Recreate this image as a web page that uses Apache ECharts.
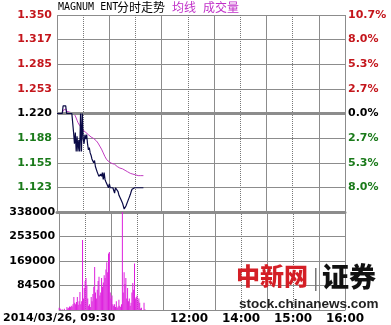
<!DOCTYPE html>
<html><head><meta charset="utf-8">
<script src="https://cdn.jsdelivr.net/npm/echarts@6/dist/echarts.min.js"></script>
<style>html,body{margin:0;padding:0;background:#fff}#c{width:391px;height:325px}</style>
</head><body><div id="c"></div>
<script>
// ---- data (one value per trading minute from 09:30) ----
const prevClose = 1.220;
const priceValues = [
1.220,1.220,1.220,1.220,1.220,1.220,1.220,
1.230,1.230,1.230,1.230,
1.220,1.220,1.220,1.220,1.220,1.220,1.220,1.220,
1.195,1.180,1.195,1.170,1.190,1.170,1.185,1.170,1.220,1.170,1.220,1.186,1.180,1.192,1.186,1.192,1.180,1.172,1.175,1.168,1.165,1.160,1.162,1.155,1.158,1.150,1.148,1.143,1.140,1.137,1.137,1.140,1.137,1.142,1.133,1.142,1.133,1.130,1.128,1.128,1.122,1.127,1.122,
1.122,1.122,1.122,1.122,1.115,1.122,1.122,1.122,1.117,1.112,1.110,1.107,1.105,1.102,1.100,1.094,1.092,1.098,1.100,1.104,1.107,1.110,1.113,1.117,1.120,
1.122,1.122,1.122,1.122,1.122,1.122,1.122,1.122,1.122,1.122,1.122,1.122,1.122
];
const avgValues = [
1.220,1.220,1.220,1.220,1.220,1.220,1.220,
1.224,1.226,1.226,1.226,
1.223,1.222,1.222,1.222,1.221,1.221,1.221,1.221,
1.220,1.219,1.217,1.214,1.211,1.208,1.206,1.204,1.203,1.201,1.200,1.198,1.197,1.196,1.195,1.194,1.193,1.192,1.191,1.190,1.189,1.188,1.187,1.187,1.186,1.185,1.184,1.183,1.181,1.179,1.177,1.175,1.173,1.171,1.168,1.166,1.163,1.161,1.159,1.158,1.157,1.156,1.155,
1.154,1.154,1.153,1.153,1.153,1.152,1.151,1.150,1.149,1.149,1.148,1.148,1.147,1.147,1.146,1.145,1.145,1.144,1.143,1.143,1.142,1.142,1.141,1.141,1.140,
1.140,1.139,1.139,1.139,1.138,1.138,1.138,1.138,1.138,1.138,1.138,1.138,1.138
];
const volumeValues = [
8000,5000,3000,0,2000,0,4000,0,0,10000,
5000,8000,12000,10000,15000,12000,20000,45000,25000,20000,
28000,45000,18000,30000,62000,20000,30000,241000,40000,76000,
100000,110000,85000,40000,15000,20000,10000,45000,30000,55000,
80000,148000,60000,40000,70000,100000,115000,50000,60000,110000,
80000,95000,120000,110000,140000,165000,130000,195000,200000,60000,
40000,50000,20000,15000,20000,10000,30000,8000,12000,35000,
15000,10000,20000,338000,60000,130000,90000,110000,40000,76000,
30000,40000,15000,25000,60000,93000,70000,160000,40000,45000,
50000,30000,40000,25000,5000,8000,0,0,25000,3000
];
const priceTickLabels = ['1.350','1.317','1.285','1.253','1.220','1.188','1.155','1.123'];
const pctTickLabels = ['10.7%','8.0%','5.3%','2.7%','0.0%','2.7%','5.3%','8.0%'];
const volumeTickLabels = ['338000','253500','169000','84500'];
const timeTickMinutes = [0,150,210,270,330];
const timeTickLabels = ['2014/03/26, 09:30','12:00','14:00','15:00','16:00'];

// ---- chart ----
const RED='#c4161c', GREEN='#1a7a1a', BLACK='#000', GRID='#8c8c8c';
const FONT='DejaVu Sans';
const pricePairs = priceValues.map((v,i)=>[i,v]);
const avgPairs = avgValues.map((v,i)=>[i,v]);
const volPairs = volumeValues.map((v,i)=>[i,v]);
function labColor(idx){ // idx from bottom, 0..8
  const k = 8-idx; if(k<4) return RED; if(k===4) return BLACK; return GREEN;
}
const xBase = {type:'value',min:0,max:330,axisTick:{show:false}};
const chart = echarts.init(document.getElementById('c'),null,{renderer:'canvas'});
chart.setOption({
  animation:false,
  backgroundColor:'#fff',
  grid:[
    {left:57,top:15,width:288,height:197,show:false},
    {left:57,top:212,width:288,height:98,show:false}
  ],
  xAxis:[
    Object.assign({},xBase,{gridIndex:0,interval:30,axisLabel:{show:false},
      axisLine:{show:true,lineStyle:{color:GRID,width:3}},
      splitLine:{show:true,lineStyle:{color:'#777',width:1,type:[1,1]}}}),
    Object.assign({},xBase,{gridIndex:0,interval:60,axisLabel:{show:false},axisLine:{show:false},
      splitLine:{show:true,lineStyle:{color:GRID,width:1}}}),
    Object.assign({},xBase,{gridIndex:1,interval:30,
      axisLine:{show:true,lineStyle:{color:GRID,width:1}},
      splitLine:{show:true,lineStyle:{color:'#777',width:1,type:[1,1]}},
      axisLabel:{show:true,showMinLabel:true,showMaxLabel:true,margin:3,color:'#000',fontFamily:FONT,fontWeight:'bold',fontSize:12,
        formatter:function(v){const i=timeTickMinutes.indexOf(Math.round(v));return i<0?'':(i===0?'{d|'+timeTickLabels[0]+'}':timeTickLabels[i]);},
        rich:{d:{fontFamily:FONT,fontWeight:'bold',fontSize:11,color:'#000'}}}}),
    Object.assign({},xBase,{gridIndex:1,interval:60,axisLabel:{show:false},axisLine:{show:false},
      splitLine:{show:true,lineStyle:{color:GRID,width:1}}})
  ],
  yAxis:[
    {type:'value',gridIndex:0,min:1.09,max:1.35,interval:0.0325,position:'left',
      axisLine:{show:false},axisTick:{show:false},
      splitLine:{show:true,lineStyle:{color:GRID,width:1}},
      axisLabel:{margin:5,fontFamily:FONT,fontWeight:'bold',fontSize:11,
        formatter:function(v,idx){return idx===0?'':priceTickLabels[8-idx];},
        color:function(v,idx){return labColor(idx);}}},
    {type:'value',gridIndex:0,min:1.09,max:1.35,interval:0.0325,position:'right',
      axisLine:{show:false},axisTick:{show:false},splitLine:{show:false},
      axisLabel:{margin:3,fontFamily:FONT,fontWeight:'bold',fontSize:11,
        formatter:function(v,idx){return idx===0?'':pctTickLabels[8-idx];},
        color:function(v,idx){return labColor(idx);}}},
    {type:'value',gridIndex:1,min:0,max:338000,interval:84500,position:'left',
      axisLine:{show:false},axisTick:{show:false},
      splitLine:{show:true,lineStyle:{color:GRID,width:1}},
      axisLabel:{margin:4,fontFamily:FONT,fontWeight:'bold',fontSize:11,color:'#000',
        formatter:function(v,idx){return idx===0?'':volumeTickLabels[4-idx];}}}
  ],
  series:[
    {type:'line',xAxisIndex:0,yAxisIndex:0,data:pricePairs,symbol:'none',
      lineStyle:{color:'#0a0a46',width:1.2},
      markLine:{symbol:'none',silent:true,label:{show:false},
        lineStyle:{color:GRID,width:3,type:'solid'},data:[{yAxis:prevClose}]},z:5},
    {type:'line',xAxisIndex:0,yAxisIndex:0,data:avgPairs,symbol:'none',
      lineStyle:{color:'#c23cc2',width:1},z:4},
    {type:'bar',xAxisIndex:2,yAxisIndex:2,data:volPairs,barWidth:1,
      itemStyle:{color:'#dd20dd'}}
  ],
  graphic:[
    {type:'text',left:58,top:2,style:{text:'MAGNUM ENT',fontFamily:'DejaVu Sans Mono',fontSize:10,fill:'#000'}},
    {type:'text',left:117,top:1,style:{text:'分时走势',fontFamily:'Noto Sans CJK SC',fontSize:12,fill:'#000'}},
    {type:'text',left:172,top:1,style:{text:'均线',fontFamily:'Noto Sans CJK SC',fontSize:12,fill:'#c030c8'}},
    {type:'text',left:203,top:1,style:{text:'成交量',fontFamily:'Noto Sans CJK SC',fontSize:12,fill:'#c030c8'}},
    {type:'text',left:236,top:264,z:100,style:{text:'中新网',fontFamily:'Noto Sans CJK SC',fontWeight:900,fontSize:24,fill:'#d41f26'}},
    {type:'rect',left:315,top:268,z:100,shape:{width:1.5,height:23},style:{fill:'#777'}},
    {type:'text',left:322,top:263,z:100,style:{text:'证券',fontFamily:'Noto Sans CJK SC',fontWeight:900,fontSize:27,fill:'#111'}},
    {type:'text',left:239,top:297,z:100,style:{text:'stock.chinanews.com',fontFamily:'Liberation Sans',fontWeight:'bold',fontSize:13.5,fill:'#222'}}
  ]
});
</script></body></html>
